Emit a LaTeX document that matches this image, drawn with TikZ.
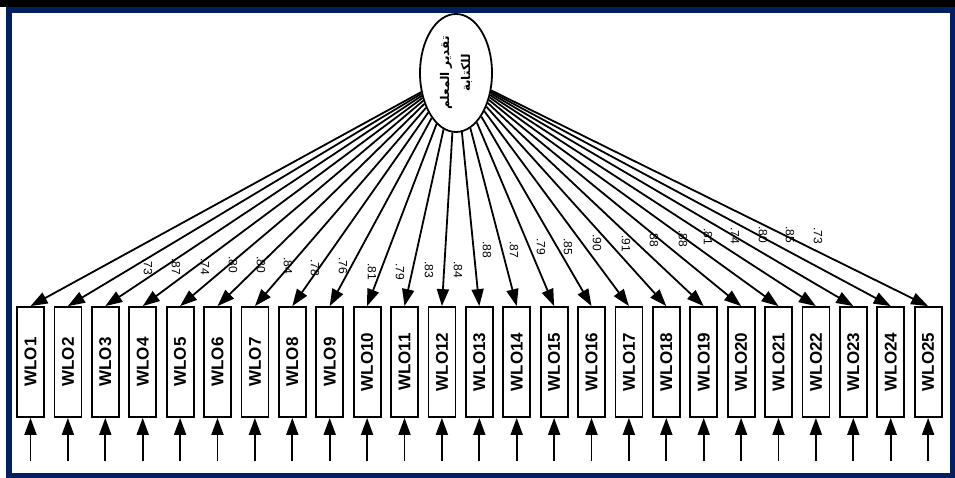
\documentclass[tikz,border=0pt]{standalone}
\usepackage{fontspec}
\setmainfont{Liberation Sans}
\newfontfamily\arabicfont[Script=Arabic]{DejaVu Sans}
\TeXXeTstate=1
\usetikzlibrary{arrows.meta,shapes.geometric}
\definecolor{framenavy}{RGB}{0,32,96}

\begin{document}
\begin{tikzpicture}[x=1pt,y=-1pt,
    latent/.style={ellipse,draw,line width=1.8pt,minimum width=118pt,minimum height=72pt,
      inner sep=0pt,rotate=90,align=center,font=\arabicfont\bfseries\fontsize{12}{21}\selectfont},
    obsbox/.style={draw,line width=1.8pt,minimum width=110pt,minimum height=27pt,inner sep=0pt,
      rotate=90,font=\fontsize{17}{17}\selectfont\bfseries},
    loading/.style={line width=1.8pt,-{Triangle[length=17pt,width=12pt]}},
    wt/.style={rotate=-90,inner sep=0pt,font=\fontsize{12}{12}\selectfont}]
      \useasboundingbox (0,0) rectangle (955,478);
      \fill[white] (0,0) rectangle (955,478);
      \fill[black] (0,0) rectangle (955,7);
      \draw[framenavy, line width=5.5pt] (8.75,10) rectangle (952.25,475.25);
      \node[latent] (wlo) at (456,73) {\beginR تقدير المعلم\endR\\\beginR للكتابة\endR};
      \foreach \i in {1,...,25} {
        \node[obsbox] (b\i) at ({30.5+37.4*(\i-1)},362) {WLO\i};
        \coordinate (e\i) at ({30.5+37.4*(\i-1)},461);
        \draw[loading] (wlo) -- (b\i.east);
        \draw[loading] (e\i) -- (b\i.west);
      }
      \foreach \x/\y/\w [count=\k] in {148/267/.73,176/267/.87,205/267/.74,233/265/.80,261/265/.80,
          288/266/.84,315/268/.78,343/266/.76,372/272/.81,400/272/.79,429/270/.83,458/270/.84,
          487/250/.88,514/250/.87,541/247/.79,568/247/.85,597/243/.90,626/244/.91,654/239/.88,
          683/239/.88,708/237/.81,735/236/.74,763/235/.80,790/235/.85,818/236/.73} {
        \node[wt] (w\k) at (\x,\y) {\w};
      }
    \end{tikzpicture}
\end{document}
